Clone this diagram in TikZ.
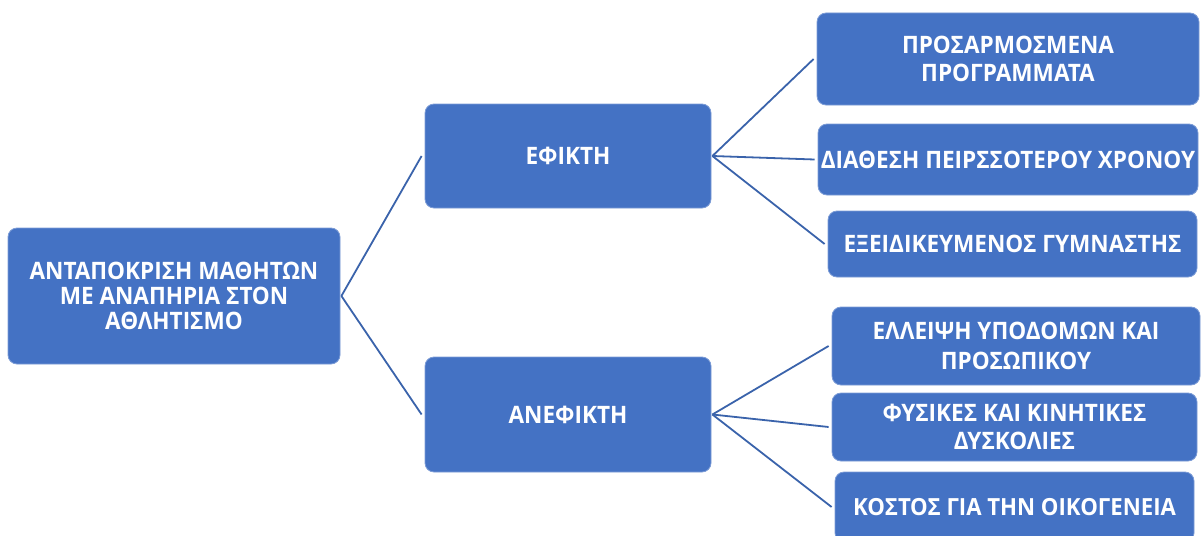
\documentclass[tikz,border=0pt]{standalone}
\usepackage{fontspec}
\setmainfont{Open Sans}[BoldFont={Open Sans Bold}, FakeStretch=0.94]
\definecolor{boxblue}{HTML}{4472C4}
\definecolor{linkblue}{HTML}{3A63AB}
\begin{document}
\begin{tikzpicture}[x=1pt,y=-1pt,
  box/.style={draw=boxblue!70!white, line width=0.8pt, fill=boxblue,
    rounded corners=9pt, text=white, align=center, inner sep=0pt,
    font=\fontsize{24}{28}\selectfont\bfseries},
  link/.style={draw=linkblue, line width=1.8pt}]
\useasboundingbox (0,0) rectangle (1201,535);

% root
\node[box, minimum width=332pt, minimum height=136pt,
  font=\fontsize{24}{25}\selectfont\bfseries] (root) at (174,296)
  {ΑΝΤΑΠΟΚΡΙΣΗ ΜΑΘΗΤΩΝ\\ΜΕ ΑΝΑΠΗΡΙΑ ΣΤΟΝ\\ΑΘΛΗΤΙΣΜΟ};

% second level
\node[box, minimum width=286pt, minimum height=104pt] (ef) at (568,156) {ΕΦΙΚΤΗ};
\node[box, minimum width=286pt, minimum height=115pt] (anef) at (568,414.5) {ΑΝΕΦΙΚΤΗ};

% leaves
\node[box, minimum width=382pt, minimum height=92pt] (c1) at (1008,59)
  {ΠΡΟΣΑΡΜΟΣΜΕΝΑ\\ΠΡΟΓΡΑΜΜΑΤΑ};
\node[box, minimum width=380pt, minimum height=71pt] (c2) at (1008,159.5)
  {ΔΙΑΘΕΣΗ ΠΕΙΡΣΣΟΤΕΡΟΥ ΧΡΟΝΟΥ};
\node[box, minimum width=369pt, minimum height=66pt] (c3) at (1012.5,244)
  {ΕΞΕΙΔΙΚΕΥΜΕΝΟΣ ΓΥΜΝΑΣΤΗΣ};
\node[box, minimum width=368pt, minimum height=78pt,
  font=\fontsize{24}{30}\selectfont\bfseries] (c4) at (1016,346)
  {ΕΛΛΕΙΨΗ ΥΠΟΔΟΜΩΝ ΚΑΙ\\ΠΡΟΣΩΠΙΚΟΥ};
\node[box, minimum width=365pt, minimum height=68pt] (c5) at (1014.5,427)
  {ΦΥΣΙΚΕΣ ΚΑΙ ΚΙΝΗΤΙΚΕΣ\\ΔΥΣΚΟΛΙΕΣ};
\node[box, minimum width=359pt, minimum height=70pt,
  font=\fontsize{23.6}{26}\selectfont\bfseries] (c6) at (1014.5,507)
  {ΚΟΣΤΟΣ ΓΙΑ ΤΗΝ ΟΙΚΟΓΕΝΕΙΑ};

% connectors
\draw[link] ([xshift=1pt]root.east) -- ([xshift=-3pt]ef.west);
\draw[link] ([xshift=1pt]root.east) -- ([xshift=-3pt]anef.west);
\draw[link] ([xshift=1pt]ef.east) -- ([xshift=-3pt]c1.west);
\draw[link] ([xshift=1pt]ef.east) -- ([xshift=-3pt]c2.west);
\draw[link] ([xshift=1pt]ef.east) -- ([xshift=-3pt]c3.west);
\draw[link] ([xshift=1pt]anef.east) -- ([xshift=-3pt]c4.west);
\draw[link] ([xshift=1pt]anef.east) -- ([xshift=-3pt]c5.west);
\draw[link] ([xshift=1pt]anef.east) -- ([xshift=-3pt]c6.west);
\end{tikzpicture}
\end{document}
